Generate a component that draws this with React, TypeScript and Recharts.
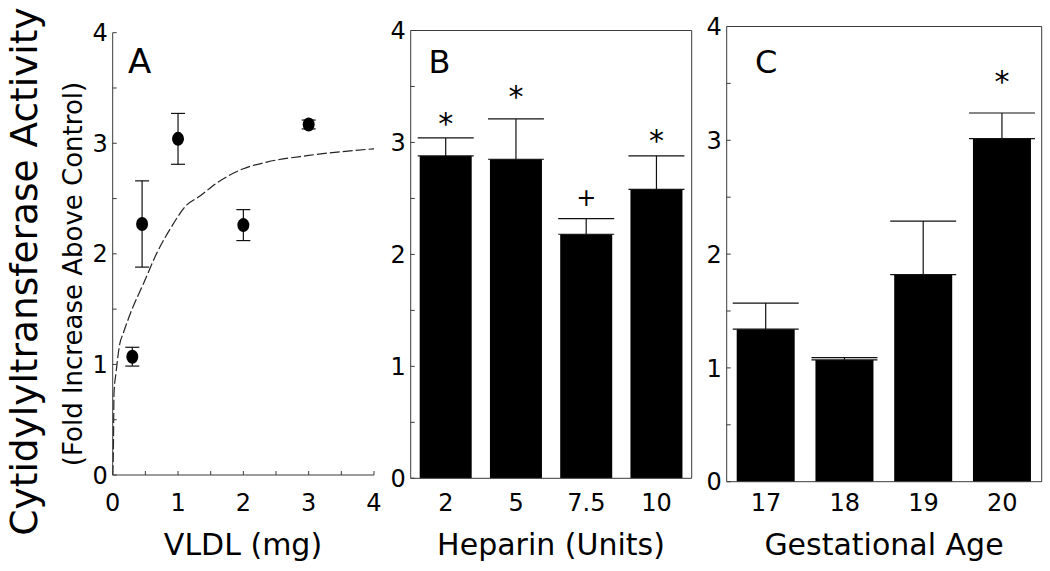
import React from 'react';
import {
  ComposedChart,
  BarChart,
  Bar,
  Line,
  Scatter,
  XAxis,
  YAxis,
  ErrorBar,
  CartesianGrid,
  LabelList,
} from 'recharts';

// ---------- Panel A : VLDL dose response ----------
const vldlDose = [0.3, 0.45, 1, 2, 3];
const vldlActivity = [1.07, 2.27, 3.04, 2.26, 3.17];
const vldlSem = [0.085, 0.39, 0.23, 0.14, 0.04];
const fitDose = [0, 0.01, 0.02, 0.05, 0.11, 0.16, 0.29, 0.47, 0.67, 0.9, 1.13, 1.33, 1.59, 2.0, 2.36, 3.0, 4.0];
const fitActivity = [0, 0.2, 0.74, 0.92, 1.19, 1.28, 1.49, 1.73, 2.0, 2.245, 2.44, 2.52, 2.64, 2.77, 2.83, 2.89, 2.95];
const vldlTicks = [0, 0.5, 1, 1.5, 2, 2.5, 3, 3.5, 4];
const activityTicks = [0, 0.5, 1, 1.5, 2, 2.5, 3, 3.5, 4];

// ---------- Panel B : Heparin ----------
const heparinUnits = ['2', '5', '7.5', '10'];
const heparinActivity = [2.88, 2.85, 2.18, 2.58];
const heparinSem = [0.16, 0.36, 0.14, 0.3];
const heparinMark = ['*', '*', '+', '*'];
const heparinMarkLevel = [3.23, 3.47, 2.51, 3.07];

// ---------- Panel C : Gestational age ----------
const gestAge = ['17', '18', '19', '20'];
const gestActivity = [1.34, 1.07, 1.82, 3.015];
const gestSem = [0.23, 0.02, 0.47, 0.225];
const gestMark = ['', '', '', '*'];
const gestMarkLevel = [0, 0, 0, 3.57];

const FONT = '"DejaVu Sans", Verdana, sans-serif';
const AXIS = '#3a3a3a';
const INK = '#000';
const TICK_FS = 24;
const XTICK_BASELINE = 511;

const vldlPoints = vldlDose.map((x, i) => ({ x, y: vldlActivity[i], err: vldlSem[i] }));
const fitCurve = fitDose.map((x, i) => ({ x, y: fitActivity[i] }));
const heparinData = heparinUnits.map((cat, i) => ({ cat, value: heparinActivity[i], err: [0, heparinSem[i]] }));
const gestData = gestAge.map((cat, i) => ({ cat, value: gestActivity[i], err: [0, gestSem[i]] }));

const makeYTick = (axisX: number) => (props: any) => {
  const { y, payload } = props;
  const v = payload.value;
  const major = Number.isInteger(v);
  return (
    <g>
      <line x1={axisX} x2={axisX + 4} y1={y} y2={y} stroke={AXIS} strokeWidth={1} />
      {major ? (
        <text x={axisX - 5} y={y} dy="0.36em" textAnchor="end" fontSize={TICK_FS} fontFamily={FONT} fill={INK}>
          {v}
        </text>
      ) : null}
    </g>
  );
};

const makeXTickNum = (axisY: number) => (props: any) => {
  const { x, payload } = props;
  const v = payload.value;
  const major = Number.isInteger(v);
  return (
    <g>
      <line x1={x} x2={x} y1={axisY} y2={axisY - 4} stroke={AXIS} strokeWidth={1} />
      {major ? (
        <text x={x} y={XTICK_BASELINE} textAnchor="middle" fontSize={TICK_FS} fontFamily={FONT} fill={INK}>
          {v}
        </text>
      ) : null}
    </g>
  );
};

const XTickCat = (props: any) => {
  const { x, payload } = props;
  return (
    <text x={x} y={XTICK_BASELINE} textAnchor="middle" fontSize={TICK_FS} fontFamily={FONT} fill={INK}>
      {payload.value}
    </text>
  );
};

const makeMark = (marks: string[], levels: number[], values: number[]) => (props: any) => {
  const index = props.index;
  const mark = marks[index];
  if (!mark) return null;
  const vb = props.viewBox && props.viewBox.width !== undefined ? props.viewBox : props;
  const { x, y, width, height } = vb;
  const bottom = y + height;
  const ppu = height / values[index];
  const cy = bottom - levels[index] * ppu;
  const fs = mark === '+' ? 24 : 30;
  const base = cy + (mark === '+' ? 0.36 : 0.56) * fs;
  return (
    <text x={x + width / 2} y={base} textAnchor="middle" fontSize={fs} fontFamily={FONT} fill={INK}>
      {mark}
    </text>
  );
};

const Dot = (props: any) => {
  const { cx, cy } = props;
  return <ellipse cx={cx} cy={cy} rx={6} ry={7} fill="#000" />;
};

// frame lines (top and right) of the boxed panels, placed on the plot edges
const topEdge = (p: any) => [p.offset.top];
const rightEdge = (p: any) => [p.offset.left + p.offset.width];

const abs = (left: number): React.CSSProperties => ({ position: 'absolute', left, top: 0 });

export default function App() {
  return (
    <div style={{ position: 'absolute', left: 0, top: 0, width: 1050, height: 571, background: '#fff', overflow: 'hidden' }}>
      {/* Panel A */}
      <div style={abs(0)}>
        <ComposedChart width={385} height={571} margin={{ top: 32.7, right: 11, bottom: 10, left: 0 }}>
          <XAxis
            type="number"
            dataKey="x"
            domain={[0, 4]}
            ticks={vldlTicks}
            interval={0}
            tick={makeXTickNum(475)}
            tickLine={false}
            tickSize={0}
            axisLine={{ stroke: AXIS }}
            height={86}
          />
          <YAxis
            type="number"
            domain={[0, 4]}
            ticks={activityTicks}
            interval={0}
            tick={makeYTick(112.7)}
            tickLine={false}
            tickSize={0}
            axisLine={{ stroke: AXIS }}
            width={112.7}
          />
          <Line
            data={fitCurve}
            dataKey="y"
            type="monotone"
            dot={false}
            stroke="#222"
            strokeWidth={1.2}
            strokeDasharray="10 3"
            isAnimationActive={false}
          />
          <Scatter data={vldlPoints} dataKey="y" fill="#000" shape={Dot} isAnimationActive={false}>
            <ErrorBar dataKey="err" direction="y" width={7} stroke="#111" strokeWidth={1.2} />
          </Scatter>
        </ComposedChart>
      </div>

      {/* Panel B */}
      <div style={abs(380)}>
        <BarChart width={320} height={571} data={heparinData} margin={{ top: 30.5, right: 8.3, bottom: 10, left: 0 }}>
          <CartesianGrid
            stroke={AXIS}
            strokeWidth={1}
            horizontalCoordinatesGenerator={topEdge}
            verticalCoordinatesGenerator={rightEdge}
          />
          <XAxis
            dataKey="cat"
            tick={XTickCat}
            tickLine={false}
            tickSize={0}
            interval={0}
            axisLine={{ stroke: AXIS }}
            height={82.7}
          />
          <YAxis
            type="number"
            domain={[0, 4]}
            ticks={activityTicks}
            interval={0}
            tick={makeYTick(30.7)}
            tickLine={false}
            tickSize={0}
            axisLine={{ stroke: AXIS }}
            width={30.7}
          />
          <Bar dataKey="value" fill="#000" barSize={52} isAnimationActive={false}>
            <ErrorBar dataKey="err" direction="y" width={28} stroke="#111" strokeWidth={1.2} />
            <LabelList dataKey="value" content={makeMark(heparinMark, heparinMarkLevel, heparinActivity)} />
          </Bar>
        </BarChart>
      </div>

      {/* Panel C */}
      <div style={abs(700)}>
        <BarChart width={350} height={571} data={gestData} margin={{ top: 26.5, right: 8.3, bottom: 10, left: 0 }}>
          <CartesianGrid
            stroke={AXIS}
            strokeWidth={1}
            horizontalCoordinatesGenerator={topEdge}
            verticalCoordinatesGenerator={rightEdge}
          />
          <XAxis
            dataKey="cat"
            tick={XTickCat}
            tickLine={false}
            tickSize={0}
            interval={0}
            axisLine={{ stroke: AXIS }}
            height={79.3}
          />
          <YAxis
            type="number"
            domain={[0, 4]}
            ticks={activityTicks}
            interval={0}
            tick={makeYTick(26.7)}
            tickLine={false}
            tickSize={0}
            axisLine={{ stroke: AXIS }}
            width={26.7}
          />
          <Bar dataKey="value" fill="#000" barSize={58} isAnimationActive={false}>
            <ErrorBar dataKey="err" direction="y" width={33} stroke="#111" strokeWidth={1.2} />
            <LabelList dataKey="value" content={makeMark(gestMark, gestMarkLevel, gestActivity)} />
          </Bar>
        </BarChart>
      </div>

      {/* Titles and panel letters */}
      <svg width={1050} height={571} style={{ position: 'absolute', left: 0, top: 0, pointerEvents: 'none' }}>
        <text
          x={37}
          y={271.5}
          transform="rotate(-90 37 271.5)"
          textAnchor="middle"
          fontSize={37.5}
          fontFamily={FONT}
          fill={INK}
        >
          Cytidylyltransferase Activity
        </text>
        <text
          x={82}
          y={274}
          transform="rotate(-90 82 274)"
          textAnchor="middle"
          fontSize={26}
          fontFamily={FONT}
          fill={INK}
        >
          (Fold Increase Above Control)
        </text>
        <text x={128} y={73} fontSize={34} fontFamily={FONT} fill={INK}>A</text>
        <text x={428.5} y={73.3} fontSize={32} fontFamily={FONT} fill={INK}>B</text>
        <text x={755} y={73.3} fontSize={32} fontFamily={FONT} fill={INK}>C</text>
        <text x={243} y={555} textAnchor="middle" fontSize={30} fontFamily={FONT} fill={INK}>VLDL (mg)</text>
        <text x={551} y={555} textAnchor="middle" fontSize={30} fontFamily={FONT} fill={INK}>Heparin (Units)</text>
        <text x={884} y={555} textAnchor="middle" fontSize={30} fontFamily={FONT} fill={INK}>Gestational Age</text>
      </svg>
    </div>
  );
}
